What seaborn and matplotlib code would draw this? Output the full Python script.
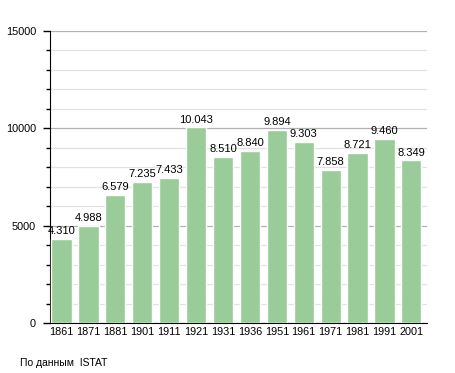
import matplotlib
matplotlib.use("Agg")
import matplotlib.pyplot as plt
import seaborn as sns
import pandas as pd
from matplotlib.ticker import MultipleLocator

years = ["1861", "1871", "1881", "1901", "1911", "1921", "1931",
         "1936", "1951", "1961", "1971", "1981", "1991", "2001"]
population = [4310, 4988, 6579, 7235, 7433, 10043, 8510,
              8840, 9894, 9303, 7858, 8721, 9460, 8349]

df = pd.DataFrame({"year": years, "pop": population})

sns.set_style("white")
plt.rcParams['font.family'] = ['Liberation Sans', 'DejaVu Sans']
plt.rcParams['text.color'] = 'black'
plt.rcParams['xtick.color'] = 'black'
plt.rcParams['ytick.color'] = 'black'

fig = plt.figure(figsize=(4.55, 3.73), dpi=100)
ax = fig.add_axes([50 / 455, 1 - 323 / 373, 377 / 455, 292 / 373])

sns.barplot(data=df, x="year", y="pop", color="#99cc99", saturation=1,
            width=0.75, ax=ax, zorder=3)

ax.set_ylim(0, 15000)
ax.set_xlim(-0.43, 13.58)
ax.yaxis.set_major_locator(MultipleLocator(5000))
ax.yaxis.set_minor_locator(MultipleLocator(1000))
ax.grid(which="major", axis="y", color="#b0b0b0", lw=0.9, zorder=0)
ax.grid(which="minor", axis="y", color="#e2e2e2", lw=0.9, zorder=0)
ax.tick_params(axis="y", which="major", length=5, width=1,
               labelsize=7.8, pad=5, left=True)
ax.tick_params(axis="y", which="minor", length=3, width=1, left=True)
ax.tick_params(axis="x", length=0, labelsize=7.8, pad=3)

for side in ["top", "right"]:
    ax.spines[side].set_visible(False)
ax.spines["left"].set_color("black")
ax.spines["bottom"].set_color("black")
ax.set_xlabel("")
ax.set_ylabel("")

for i, v in enumerate(population):
    label = f"{v:,}".replace(",", ".")
    ax.text(i, v + 150, label, ha="center", va="bottom", fontsize=8, zorder=4)

fig.text(20 / 455, 1 - 363 / 373, "По данным  ISTAT", fontsize=7.5,
         va="center", ha="left")

fig.savefig("out.png", dpi=100)
